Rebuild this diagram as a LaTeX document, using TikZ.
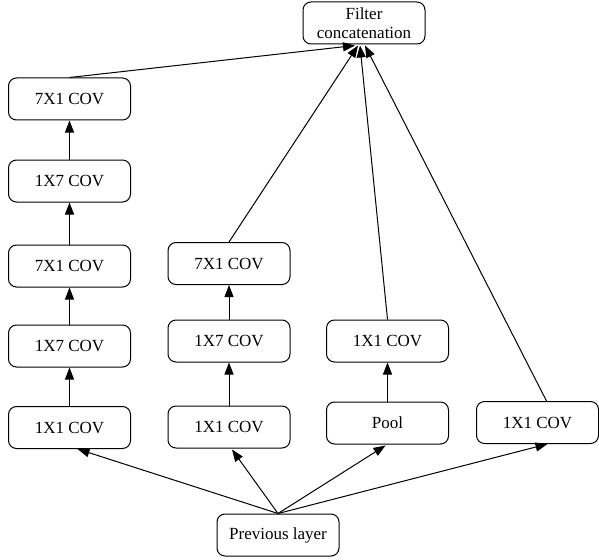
\documentclass[tikz,border=0pt]{standalone}
\usepackage{fontspec}
\setmainfont{Liberation Serif}
\usetikzlibrary{arrows.meta,calc}
\begin{document}
\begin{tikzpicture}[x=1pt,y=-1pt,
  box/.style={draw, line width=1pt, rounded corners=8pt, minimum width=122pt,
    minimum height=42pt, inner sep=2pt, align=center,
    font=\fontsize{17}{19}\selectfont},
  conn/.style={line width=1pt, -{Triangle[length=12pt,width=9pt]}}]
\useasboundingbox (0,0) rectangle (599,559);

% output node
\node[box] (cat) at (364,23) {Filter\\concatenation};

% branch 1: five stacked convolutions
\node[box] (a1) at (69.5,99)  {7X1 COV};
\node[box] (a2) at (69.5,181) {1X7 COV};
\node[box] (a3) at (69.5,266) {7X1 COV};
\node[box] (a4) at (69.5,346) {1X7 COV};
\node[box] (a5) at (69.5,427.5) {1X1 COV};

% branch 2
\node[box] (b1) at (229,263.5) {7X1 COV};
\node[box] (b2) at (229,341)   {1X7 COV};
\node[box] (b3) at (229,427)   {1X1 COV};

% branch 3
\node[box] (c1) at (387.5,341) {1X1 COV};
\node[box] (c2) at (387.5,423) {Pool};

% branch 4
\node[box] (d1) at (537.5,422.5) {1X1 COV};

% input node
\node[box] (prev) at (278,535) {Previous layer};

% inside the branches
\draw[conn] (a5) -- (a4);
\draw[conn] (a4) -- (a3);
\draw[conn] (a3) -- (a2);
\draw[conn] (a2) -- (a1);
\draw[conn] (b3) -- (b2);
\draw[conn] (b2) -- (b1);
\draw[conn] (c2) -- (c1);

% from the input to each branch
\draw[conn] (prev.north) -- ($(a5.south)+(8,0)$);
\draw[conn] (prev.north) -- ($(b3.south)+(3,1)$);
\draw[conn] (prev.north) -- ($(c2.south)+(-2,1)$);
\draw[conn] (prev.north) -- ($(d1.south)+(10,0)$);

% from each branch to the concatenation
\draw[conn] (a1.north) -- ($(cat.south)+(-9,1)$);
\draw[conn] (b1.north) -- ($(cat.south)+(-6,1)$);
\draw[conn] (c1.north) -- ($(cat.south)+(-4,1)$);
\draw[conn] ($(d1.north)+(9,0)$) -- ($(cat.south)+(1,1)$);
\end{tikzpicture}
\end{document}
